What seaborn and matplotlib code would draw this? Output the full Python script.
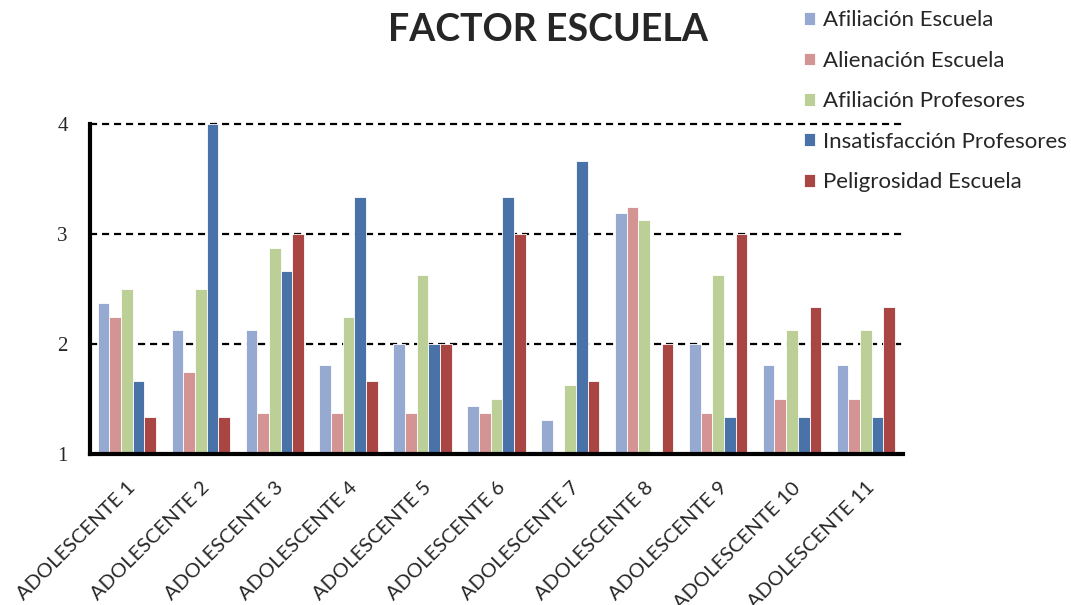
import numpy as np
import pandas as pd
import matplotlib
matplotlib.use("Agg")
import matplotlib.pyplot as plt
import seaborn as sns
from matplotlib.ticker import FixedLocator

adolescentes = [f"ADOLESCENTE {i}" for i in range(1, 12)]
series = ["Afiliación Escuela", "Alienación Escuela", "Afiliación Profesores",
          "Insatisfacción Profesores", "Peligrosidad Escuela"]

afiliacion_escuela = [2.375, 2.125, 2.125, 1.8125, 2.0, 1.4375, 1.3125, 3.1875, 2.0, 1.8125, 1.8125]
alienacion_escuela = [2.25, 1.75, 1.375, 1.375, 1.375, 1.375, 1.0, 3.25, 1.375, 1.5, 1.5]
afiliacion_profesores = [2.5, 2.5, 2.875, 2.25, 2.625, 1.5, 1.625, 3.125, 2.625, 2.125, 2.125]
insatisfaccion_profesores = [1.667, 4.0, 2.667, 3.333, 2.0, 3.333, 3.667, 1.0, 1.333, 1.333, 1.333]
peligrosidad_escuela = [1.333, 1.333, 3.0, 1.667, 2.0, 3.0, 1.667, 2.0, 3.0, 2.333, 2.333]

colores = ["#95A9D1", "#D49493", "#BBCF97", "#4872A8", "#A94644"]

valores = [afiliacion_escuela, alienacion_escuela, afiliacion_profesores,
           insatisfaccion_profesores, peligrosidad_escuela]
df = pd.DataFrame([
    {"Adolescente": a, "Factor": s, "Valor": v}
    for s, vals in zip(series, valores)
    for a, v in zip(adolescentes, vals)
])

sns.set_style("white")
plt.rcParams["font.family"] = ["Lato", "DejaVu Sans"]

fig = plt.figure(figsize=(10.71, 6.05), dpi=100)
ax = fig.add_axes([0.084, 0.2496, 0.759, 0.5454])

sns.barplot(data=df, x="Adolescente", y="Valor", hue="Factor",
            order=adolescentes, hue_order=series, palette=colores,
            width=0.79, ax=ax, edgecolor="white", linewidth=0.6,
            saturation=1, errorbar=None, legend=True)

ax.set_ylim(1, 4)
ax.set_xlim(-0.5, len(adolescentes) - 0.5)
ax.set_yticks([1, 2, 3, 4])
ax.set_yticklabels(["1", "2", "3", "4"], family="Liberation Serif", fontsize=15)
for y in [2, 3, 4]:
    ax.axhline(y, color="black", linestyle=(0, (3.2, 2.2)), linewidth=1.6,
               zorder=0.5, clip_on=False)

ax.set_xlabel("")
ax.set_ylabel("")
ax.set_xticks(range(len(adolescentes)))
ax.set_xticklabels(adolescentes, rotation=45, ha="right", rotation_mode="anchor",
                   fontsize=14.5)
ax.xaxis.set_minor_locator(FixedLocator(np.arange(-0.5, len(adolescentes), 1.0)))
ax.tick_params(axis="x", which="major", length=0, pad=18)
ax.tick_params(axis="x", which="minor", length=5, width=3, direction="out", color="black")
ax.tick_params(axis="y", which="major", length=5, width=3, direction="out", color="black", pad=11)

for side in ["top", "right"]:
    ax.spines[side].set_visible(False)
for side in ["left", "bottom"]:
    ax.spines[side].set_color("black")
    ax.spines[side].set_linewidth(3)

handles, labels = ax.get_legend_handles_labels()
ax.get_legend().remove()
fig.legend(handles, labels, loc="upper left", bbox_to_anchor=(0.738, 1.005),
           frameon=False, fontsize=16, handlelength=0.5, handleheight=0.5,
           handletextpad=0.35, labelspacing=0.92, borderaxespad=0.2)

fig.text(0.512, 0.95, "FACTOR ESCUELA", ha="center", va="center",
         fontsize=27, fontweight="bold")

fig.savefig("out.png", dpi=100)
